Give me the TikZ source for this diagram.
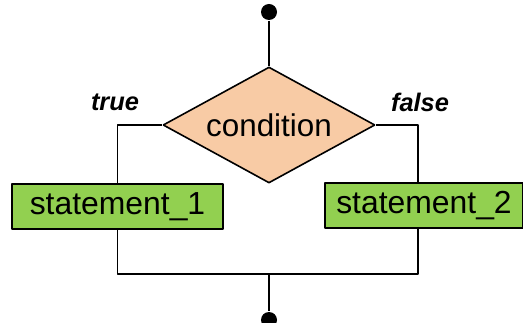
\documentclass[tikz,border=0pt]{standalone}
\usepackage{fontspec}
\setmainfont{Liberation Sans}
\usetikzlibrary{shapes.geometric}
\definecolor{condfill}{RGB}{248,203,165}
\definecolor{stmtfill}{RGB}{146,208,80}

\begin{document}
\begin{tikzpicture}[line join=bevel,line width=1.6bp,
  dot/.style={circle,fill=black,inner sep=0pt,minimum size=16bp},
  cond/.style={diamond,aspect=1.83,draw,fill=condfill,inner sep=0pt,minimum width=212bp,minimum height=116bp,font=\fontsize{31.5}{36}\selectfont},
  stmt/.style={rectangle,draw,fill=stmtfill,minimum height=45bp,font=\fontsize{32}{36}\selectfont},
  branch/.style={font=\fontsize{25.5}{30}\selectfont\bfseries\itshape}]
%%
\useasboundingbox (0bp,0bp) rectangle (523bp,323bp);
  \node (start) at (269bp,311bp) [dot] {};
  \node (c) at (269bp,198bp) [cond] {condition};
  \node (s1) at (117.5bp,116.5bp) [stmt,minimum width=211bp] {statement\_1};
  \node (s2) at (424bp,117.5bp) [stmt,minimum width=198bp] {statement\_2};
  \coordinate (j) at (269bp,49bp);
  \node (end) at (269bp,3bp) [dot] {};
  \node (t) at (115bp,221bp) [branch] {true};
  \node (f) at (420bp,221bp) [branch] {false};
  \draw (start) -- (c);
  \draw (c.west) -| (s1.north);
  \draw (c.east) -| ([xshift=-6bp]s2.north);
  \draw (s1.south) |- (j);
  \draw ([xshift=-6bp]s2.south) |- (j);
  \draw (j) -- (end);
%
\end{tikzpicture}
\end{document}
